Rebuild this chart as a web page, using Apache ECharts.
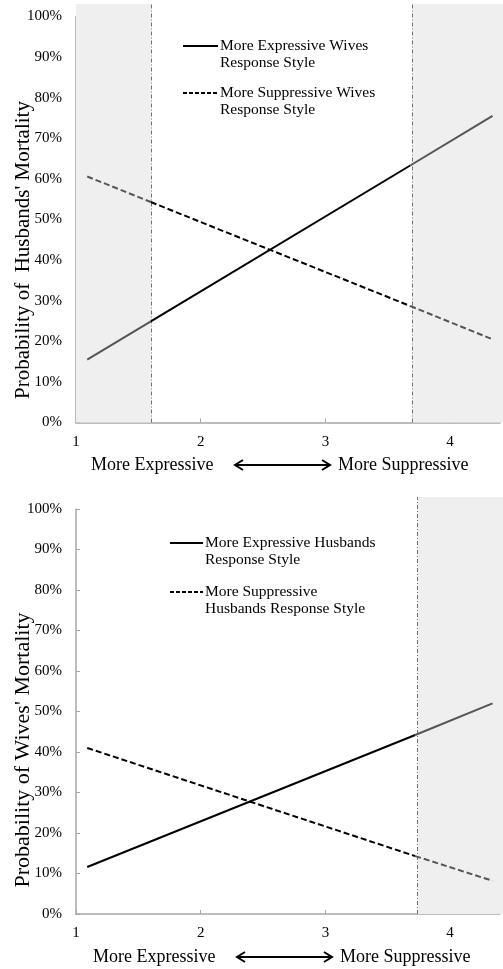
<!DOCTYPE html>
<html>
<head>
<meta charset="utf-8">
<script src="https://cdn.jsdelivr.net/npm/echarts@6/dist/echarts.min.js"></script>
<style>
html,body{margin:0;padding:0;background:#fff;}
#chart{width:503px;height:969px;}
</style>
</head>
<body>
<div id="chart"></div>
<script>
// ---- data ----
const xTicks = [1, 2, 3, 4];
const yTicks = [0, 0.1, 0.2, 0.3, 0.4, 0.5, 0.6, 0.7, 0.8, 0.9, 1.0];

// Top panel: husbands' mortality by wives' response style
const xTop = [1.09, 1.6, 3.68, 4.34];
const husbandsExpressiveWives = [0.155, 0.249, 0.633, 0.755];
const husbandsSuppressiveWives = [0.606, 0.543, 0.287, 0.205];
const shadedTop = [[1, 1.6], [3.68, 4.4]];
const cutoffsTop = [1.6, 3.68];

// Bottom panel: wives' mortality by husbands' response style
const xBottom = [1.09, 3.72, 4.34];
const wivesExpressiveHusbands = [0.116, 0.442, 0.52];
const wivesSuppressiveHusbands = [0.41, 0.143, 0.082];
const shadedBottom = [[3.72, 4.4]];
const cutoffsBottom = [3.72];

const legendTop = ['More Expressive Wives\nResponse Style', 'More Suppressive Wives\nResponse Style'];
const legendBottom = ['More Expressive Husbands\nResponse Style', 'More Suppressive\nHusbands Response Style'];
const yTitleTop = "Probability of  Husbands' Mortality";
const yTitleBottom = "Probability of Wives' Mortality";
const xLeftLabel = 'More Expressive';
const xRightLabel = 'More Suppressive';

// ---- styling ----
const FONT = '"Liberation Serif", "Times New Roman", serif';
const AXIS_GREY = '#a6a6a6';
const SHADE = '#efefef';
const SEG_GREY = '#555555';

function mainAxes(gridIndex) {
  return {
    x: {
      type: 'value', gridIndex, min: 1, max: 4.4, interval: 1,
      axisLine: { show: true, lineStyle: { color: AXIS_GREY, width: 1.5 } },
      axisTick: { show: true, inside: true, length: 4, lineStyle: { color: AXIS_GREY } },
      splitLine: { show: false },
      axisLabel: {
        margin: 12, color: '#000', fontFamily: FONT, fontSize: 15,
        formatter: v => (xTicks.indexOf(v) >= 0 ? String(v) : '')
      }
    },
    y: {
      type: 'value', gridIndex, min: 0, max: 1, interval: 0.1,
      axisLine: { show: true, lineStyle: { color: AXIS_GREY, width: 1.5 } },
      axisTick: { show: true, inside: true, length: 4, lineStyle: { color: AXIS_GREY } },
      splitLine: { show: false },
      axisLabel: {
        margin: 14, color: '#000', fontFamily: FONT, fontSize: 15,
        formatter: v => (yTicks.some(t => Math.abs(t - v) < 1e-6) ? Math.round(v * 100) + '%' : '')
      }
    }
  };
}
function bgAxes(gridIndex) {
  return {
    x: { type: 'value', gridIndex, min: 1, max: 4.4, show: false },
    y: { type: 'value', gridIndex, min: 0, max: 1, show: false }
  };
}
const a0 = mainAxes(0), a1 = bgAxes(1), a2 = mainAxes(2), a3 = bgAxes(3);

function bgSeries(xi, shaded, cutoffs) {
  return {
    type: 'line', xAxisIndex: xi, yAxisIndex: xi, data: [], z: 0, silent: true,
    markArea: {
      silent: true,
      itemStyle: { color: SHADE },
      data: shaded.map(s => [{ xAxis: s[0] }, { xAxis: s[1] }])
    },
    markLine: {
      silent: true, symbol: 'none', animation: false,
      label: { show: false },
      lineStyle: { color: '#707070', width: 1, type: [4, 2, 1, 2] },
      data: cutoffs.map(c => ({ xAxis: c }))
    }
  };
}
// one series per segment between consecutive points; grey inside shaded bands
function segmentSeries(xi, xs, ys, shaded, dashed) {
  const out = [];
  for (let i = 0; i < xs.length - 1; i++) {
    const mid = (xs[i] + xs[i + 1]) / 2;
    const inShade = shaded.some(s => mid >= s[0] && mid <= s[1]);
    out.push({
      type: 'line', xAxisIndex: xi, yAxisIndex: xi,
      data: [[xs[i], ys[i]], [xs[i + 1], ys[i + 1]]],
      symbol: 'none', z: 5, silent: true,
      lineStyle: { width: 2, color: inShade ? SEG_GREY : '#000', type: dashed ? [6, 3] : 'solid' }
    });
  }
  return out;
}

function legendGraphic(x1, x2, y, gapRows, labels) {
  const out = [];
  labels.forEach((lab, i) => {
    const yy = y + i * gapRows;
    out.push({
      type: 'line', z: 10,
      shape: { x1: x1, y1: yy, x2: x2, y2: yy },
      style: { stroke: '#000', lineWidth: 2, lineDash: i === 1 ? [4, 2] : null }
    });
    out.push({
      type: 'text', z: 10, x: x2 + 2, y: yy - 9,
      style: { text: lab, font: '15.5px ' + FONT, fill: '#000', lineHeight: 17.5, textVerticalAlign: 'top' }
    });
  });
  return out;
}
function arrowGraphic(x1, x2, y) {
  return [
    { type: 'line', z: 10, shape: { x1: x1 + 1, y1: y, x2: x2 - 1, y2: y }, style: { stroke: '#000', lineWidth: 2 } },
    { type: 'polyline', z: 10, shape: { points: [[x1 + 8, y - 5], [x1, y], [x1 + 8, y + 5]] }, style: { stroke: '#000', lineWidth: 2, fill: null } },
    { type: 'polyline', z: 10, shape: { points: [[x2 - 8, y - 5], [x2, y], [x2 - 8, y + 5]] }, style: { stroke: '#000', lineWidth: 2, fill: null } }
  ];
}
function xTitleGraphic(xl, xr, y) {
  return [
    { type: 'text', z: 10, x: xl, y: y, style: { text: xLeftLabel, font: '18px ' + FONT, fill: '#000', textVerticalAlign: 'middle' } },
    { type: 'text', z: 10, x: xr, y: y, style: { text: xRightLabel, font: '18px ' + FONT, fill: '#000', textVerticalAlign: 'middle' } }
  ];
}
function yTitleGraphic(text, x, y, size) {
  return {
    type: 'text', z: 10, x: x, y: y, rotation: Math.PI / 2,
    style: { text: text, font: size + 'px ' + FONT, fill: '#000', textAlign: 'center', textVerticalAlign: 'middle' }
  };
}

const option = {
  animation: false,
  backgroundColor: '#fff',
  grid: [
    { left: 76, right: 0, top: 16.5, height: 406 },
    { left: 76, right: 0, top: 4, height: 418.5 },
    { left: 76, right: 0, top: 509, height: 405 },
    { left: 76, right: 0, top: 497, height: 417 }
  ],
  xAxis: [a0.x, a1.x, a2.x, a3.x],
  yAxis: [a0.y, a1.y, a2.y, a3.y],
  series: [
    bgSeries(1, shadedTop, cutoffsTop),
    bgSeries(3, shadedBottom, cutoffsBottom)
  ].concat(
    segmentSeries(0, xTop, husbandsExpressiveWives, shadedTop, false),
    segmentSeries(0, xTop, husbandsSuppressiveWives, shadedTop, true),
    segmentSeries(2, xBottom, wivesExpressiveHusbands, shadedBottom, false),
    segmentSeries(2, xBottom, wivesSuppressiveHusbands, shadedBottom, true)
  ),
  graphic: [].concat(
    legendGraphic(183, 218, 46, 47, legendTop),
    legendGraphic(170, 203, 543, 49, legendBottom),
    arrowGraphic(235, 330, 465),
    arrowGraphic(237, 332, 957),
    xTitleGraphic(91, 338, 465),
    xTitleGraphic(93, 340, 957),
    [yTitleGraphic(yTitleTop, 23, 250, 21), yTitleGraphic(yTitleBottom, 23, 750, 22)]
  )
};

const chart = echarts.init(document.getElementById('chart'), null, { renderer: 'canvas' });
chart.setOption(option);
</script>
</body>
</html>
